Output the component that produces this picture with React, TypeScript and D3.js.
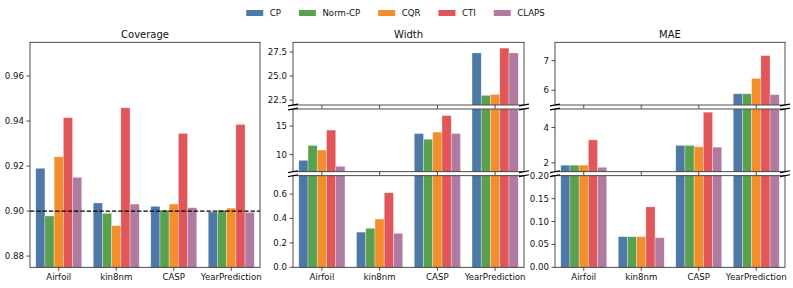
import React, { useEffect, useRef } from 'react';
import * as d3 from 'd3';

// datasets on the x axis, methods as grouped bars
const datasets = ['Airfoil', 'kin8nm', 'CASP', 'YearPrediction'];
const methods = ['CP', 'Norm-CP', 'CQR', 'CTI', 'CLAPS'];
const colors = ['#4e79a7', '#59a14f', '#f28e2b', '#e15759', '#b07aa1'];

// one row per method, values in dataset order
const coverage = [
  [0.919, 0.9036, 0.9021, 0.8996],
  [0.8978, 0.899, 0.9004, 0.9004],
  [0.9241, 0.8935, 0.9031, 0.9013],
  [0.9415, 0.9459, 0.9345, 0.9385],
  [0.915, 0.9031, 0.9015, 0.8994],
];
const width = [
  [9.0, 0.288, 13.7, 27.4],
  [11.6, 0.32, 12.7, 23.0],
  [10.8, 0.395, 13.95, 23.1],
  [14.3, 0.61, 16.85, 27.9],
  [7.95, 0.278, 13.7, 27.4],
];
const mae = [
  [1.87, 0.0668, 2.99, 5.88],
  [1.87, 0.0668, 2.99, 5.88],
  [1.87, 0.0668, 2.91, 6.4],
  [3.3, 0.132, 4.87, 7.17],
  [1.75, 0.0646, 2.89, 5.85],
];

// tick values for each axis segment
const coverageTicks = [0.88, 0.9, 0.92, 0.94, 0.96];
const widthTicks = [[22.5, 25, 27.5], [10, 15], [0, 0.2, 0.4, 0.6]];
const maeTicks = [[6, 7], [2, 4], [0, 0.05, 0.1, 0.15, 0.2]];
const targetCoverage = 0.9;

const FONT = 'DejaVu Sans, sans-serif';

type Segment = { domain: number[]; ticks: number[]; fmt: string; y0: number; y1: number };

const App = () => {
  const ref = useRef<SVGSVGElement>(null);

  useEffect(() => {
    if (!ref.current) return;
    const svg = d3.select(ref.current);
    svg.selectAll('*').remove();

    const top = 42.3, bottom = 267.3;
    const splitSegs = (d: number[][], t: number[][], f: string[]): Segment[] => [
      { domain: d[0], ticks: t[0], fmt: f[0], y0: top, y1: 105 },
      { domain: d[1], ticks: t[1], fmt: f[1], y0: 109, y1: 171.7 },
      { domain: d[2], ticks: t[2], fmt: f[2], y0: 175.7, y1: bottom },
    ];

    const drawPanel = (x0: number, x1: number, title: string, data: number[][], segs: Segment[], refLine?: number) => {
      const g = svg.append('g');
      const x = d3.scaleBand().domain(datasets).range([x0, x1]).paddingInner(0.2).paddingOuter(0.1);
      const xm = d3.scaleBand().domain(methods).range([0, x.bandwidth()]);

      segs.forEach((s, si) => {
        const y = d3.scaleLinear().domain(s.domain).range([s.y1, s.y0]);
        const fmt = d3.format(s.fmt);

        methods.forEach((m, mi) => {
          datasets.forEach((ds, di) => {
            const v = data[mi][di];
            if (v <= s.domain[0]) return;
            const yt = Math.max(s.y0, y(v));
            g.append('rect')
              .attr('x', (x(ds) as number) + (xm(m) as number))
              .attr('y', yt)
              .attr('width', xm.bandwidth())
              .attr('height', s.y1 - yt)
              .attr('fill', colors[mi])
              .attr('stroke', '#fff')
              .attr('stroke-opacity', 0.45)
              .attr('stroke-width', 0.7);
          });
        });

        if (refLine !== undefined) {
          g.append('line')
            .attr('x1', x0).attr('x2', x1)
            .attr('y1', y(refLine)).attr('y2', y(refLine))
            .attr('stroke', '#000')
            .attr('stroke-width', 1.2)
            .attr('stroke-dasharray', '4.4,1.9');
        }

        // frame
        g.append('rect')
          .attr('x', x0).attr('y', s.y0)
          .attr('width', x1 - x0).attr('height', s.y1 - s.y0)
          .attr('fill', 'none')
          .attr('stroke', '#222')
          .attr('stroke-width', 0.8);

        // y ticks
        s.ticks.forEach((t) => {
          g.append('line')
            .attr('x1', x0 - 3.5).attr('x2', x0)
            .attr('y1', y(t)).attr('y2', y(t))
            .attr('stroke', '#222').attr('stroke-width', 0.8);
          g.append('text')
            .attr('x', x0 - 6).attr('y', y(t))
            .attr('dy', '0.35em')
            .attr('text-anchor', 'end')
            .attr('font-size', 8.6)
            .attr('font-family', FONT)
            .attr('fill', '#111')
            .text(fmt(t));
        });

        // x ticks on the bottom spine of each segment
        datasets.forEach((ds) => {
          const cx = (x(ds) as number) + x.bandwidth() / 2;
          g.append('line')
            .attr('x1', cx).attr('x2', cx)
            .attr('y1', s.y1).attr('y2', s.y1 + 3.5)
            .attr('stroke', '#222').attr('stroke-width', 0.8);
        });

        // break marks between segments
        if (segs.length > 1) {
          const ys: number[] = [];
          if (si > 0) ys.push(s.y0);
          if (si < segs.length - 1) ys.push(s.y1);
          ys.forEach((yy) => {
            [x0, x1].forEach((xx) => {
              g.append('line')
                .attr('x1', xx - 5).attr('x2', xx + 5)
                .attr('y1', yy + 0.9).attr('y2', yy - 0.9)
                .attr('stroke', '#000').attr('stroke-width', 1.1);
            });
          });
        }
      });

      datasets.forEach((ds) => {
        g.append('text')
          .attr('x', (x(ds) as number) + x.bandwidth() / 2)
          .attr('y', 280)
          .attr('text-anchor', 'middle')
          .attr('font-size', 8.6)
          .attr('font-family', FONT)
          .attr('fill', '#111')
          .text(ds);
      });

      g.append('text')
        .attr('x', (x0 + x1) / 2)
        .attr('y', 37.5)
        .attr('text-anchor', 'middle')
        .attr('font-size', 10)
        .attr('font-family', FONT)
        .attr('fill', '#111')
        .text(title);
    };

    drawPanel(30, 260, 'Coverage', coverage,
      [{ domain: [0.875, 0.975], ticks: coverageTicks, fmt: '.2f', y0: top, y1: bottom }], targetCoverage);
    drawPanel(293, 524, 'Width', width,
      splitSegs([[22, 28.5], [7, 18], [0, 0.75]], widthTicks, ['.1f', '.0f', '.1f']));
    drawPanel(555, 785, 'MAE', mae,
      splitSegs([[5.5, 7.62], [1.5, 5.05], [0, 0.2]], maeTicks, ['.0f', '.0f', '.2f']));

    // legend, centred across the figure
    const lg = svg.append('g');
    let cx = 0;
    methods.forEach((m, i) => {
      lg.append('rect')
        .attr('x', cx).attr('y', 10)
        .attr('width', 17).attr('height', 6)
        .attr('fill', colors[i]);
      const t = lg.append('text')
        .attr('x', cx + 23.5).attr('y', 13)
        .attr('dy', '0.35em')
        .attr('font-size', 8.6)
        .attr('font-family', FONT)
        .attr('fill', '#111')
        .text(m);
      const tw = (t.node() as SVGTextElement).getComputedTextLength();
      cx += 23.5 + tw + 18;
    });
    const total = cx - 18;
    lg.attr('transform', `translate(${(793 - total) / 2 - 1},0)`);
  }, []);

  return (
    <svg ref={ref} width={793} height={288}
      style={{ position: 'absolute', left: 0, top: 0, background: '#fff' }} />
  );
};

export default App;
